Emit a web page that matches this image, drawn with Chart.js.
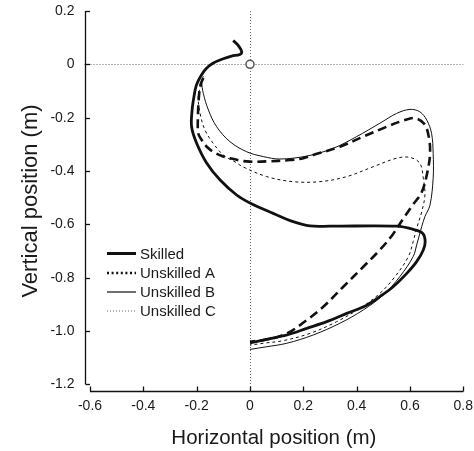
<!DOCTYPE html>
<html><head><meta charset="utf-8">
<script src="https://cdn.jsdelivr.net/npm/chart.js@4/dist/chart.umd.min.js"></script>
<style>html,body{margin:0;padding:0;background:#fff;}#wrap{width:474px;height:451px;position:relative;}</style>
</head><body><div id="wrap"><canvas id="c"></canvas></div>
<script>
// ---- data (metres) ----
const seriesNames = ['Skilled', 'Unskilled A', 'Unskilled B', 'Unskilled C'];
const skilled = [
  [-0.063,0.089],[-0.045,0.072],[-0.031,0.047],[-0.038,0.037],[-0.069,0.031],[-0.100,0.021],
  [-0.139,0.004],[-0.163,-0.015],[-0.182,-0.040],[-0.201,-0.078],[-0.210,-0.121],[-0.217,-0.171],
  [-0.219,-0.234],[-0.200,-0.296],[-0.162,-0.371],[-0.112,-0.434],[-0.050,-0.490],[0.0,-0.520],
  [0.087,-0.559],[0.162,-0.590],[0.225,-0.606],[0.30,-0.607],[0.551,-0.607],[0.612,-0.619],
  [0.648,-0.634],[0.657,-0.665],[0.650,-0.696],[0.625,-0.740],[0.588,-0.784],[0.537,-0.834],
  [0.487,-0.871],[0.438,-0.903],[0.363,-0.934],[0.288,-0.965],[0.213,-0.990],[0.138,-1.015],
  [0.063,-1.031],[0.0,-1.045]
];
const unskilledA = [
  [-0.175,-0.051],[-0.185,-0.075],[-0.191,-0.115],[-0.195,-0.190],[-0.194,-0.259],[-0.181,-0.284],
  [-0.161,-0.310],[-0.138,-0.328],[-0.105,-0.344],[-0.075,-0.352],[-0.031,-0.362],[0.0,-0.365],
  [0.063,-0.364],[0.150,-0.359],[0.200,-0.352],[0.237,-0.340],[0.337,-0.309],[0.425,-0.271],
  [0.513,-0.234],[0.575,-0.211],[0.619,-0.202],[0.655,-0.225],[0.672,-0.280],[0.675,-0.340],
  [0.664,-0.410],[0.644,-0.480],[0.612,-0.525],[0.575,-0.578],[0.537,-0.636],[0.487,-0.696],
  [0.425,-0.759],[0.350,-0.834],[0.275,-0.909],[0.213,-0.959],[0.150,-1.003],[0.094,-1.025],
  [0.037,-1.036],[0.0,-1.040]
];
const unskilledB = [
  [-0.175,-0.045],[-0.181,-0.065],[-0.175,-0.109],[-0.156,-0.171],[-0.125,-0.234],[-0.075,-0.290],
  [-0.012,-0.328],[0.050,-0.346],[0.112,-0.355],[0.213,-0.344],[0.312,-0.315],[0.400,-0.271],
  [0.487,-0.221],[0.550,-0.184],[0.600,-0.169],[0.637,-0.178],[0.663,-0.209],[0.681,-0.259],
  [0.687,-0.334],[0.687,-0.427],[0.675,-0.528],[0.656,-0.571],[0.644,-0.609],[0.625,-0.678],
  [0.612,-0.721],[0.562,-0.796],[0.500,-0.865],[0.425,-0.921],[0.337,-0.971],[0.237,-1.015],
  [0.138,-1.046],[0.063,-1.059],[0.0,-1.069]
];
const unskilledC = [
  [-0.180,-0.075],[-0.194,-0.115],[-0.187,-0.184],[-0.169,-0.246],[-0.138,-0.296],[-0.100,-0.340],
  [-0.056,-0.366],[-0.025,-0.385],[0.063,-0.421],[0.162,-0.440],[0.262,-0.440],[0.363,-0.421],
  [0.462,-0.384],[0.550,-0.352],[0.600,-0.349],[0.637,-0.371],[0.650,-0.427],[0.656,-0.490],
  [0.644,-0.553],[0.625,-0.615],[0.612,-0.665],[0.594,-0.721],[0.544,-0.796],[0.487,-0.859],
  [0.412,-0.915],[0.325,-0.965],[0.225,-1.009],[0.125,-1.036],[0.050,-1.046],[0.0,-1.053]
];
const originPoint = [[0, 0]];
const xTicks = [-0.6, -0.4, -0.2, 0, 0.2, 0.4, 0.6, 0.8];
const xTickLabels = ['-0.6', '-0.4', '-0.2', '0', '0.2', '0.4', '0.6', '0.8'];
const yTicks = [0.2, 0, -0.2, -0.4, -0.6, -0.8, -1.0, -1.2];
const yTickLabels = ['0.2', '0', '-0.2', '-0.4', '-0.6', '-0.8', '-1.0', '-1.2'];
const xTitle = 'Horizontal position (m)';
const yTitle = 'Vertical position (m)';

// ---- chart ----
const FONT = "'Liberation Sans', Arial, Helvetica, sans-serif";
Chart.defaults.font.family = FONT;
const toXY = a => a.map(p => ({x: p[0], y: p[1]}));
const INK = '#111';

const decor = {
  id: 'decor',
  beforeDatasetsDraw(chart) {
    const {ctx, chartArea: a, scales: {x, y}} = chart;
    ctx.save();
    ctx.strokeStyle = '#666';
    ctx.lineWidth = 1;
    ctx.setLineDash([1, 2]);
    const y0 = Math.round(y.getPixelForValue(0)) + 0.5;
    const x0 = Math.round(x.getPixelForValue(0)) + 0.5;
    ctx.beginPath(); ctx.moveTo(a.left, y0); ctx.lineTo(a.right, y0); ctx.stroke();
    ctx.beginPath(); ctx.moveTo(x0, a.top); ctx.lineTo(x0, a.bottom - 3); ctx.stroke();
    ctx.restore();
  },
  afterDraw(chart) {
    const {ctx, chartArea: a, scales: {x, y}} = chart;
    ctx.save();
    ctx.strokeStyle = INK; ctx.lineWidth = 1.3; ctx.setLineDash([]);
    // offset axis lines spanning the tick range
    const xa = Math.round(a.left) + 0.5, ya = Math.round(a.bottom) + 0.5;
    const xFirst = x.getPixelForValue(xTicks[0]), xLast = x.getPixelForValue(xTicks[xTicks.length - 1]);
    const yTop = y.getPixelForValue(yTicks[0]), yBot = y.getPixelForValue(yTicks[yTicks.length - 1]);
    ctx.beginPath(); ctx.moveTo(xa, yTop); ctx.lineTo(xa, yBot); ctx.stroke();
    ctx.beginPath(); ctx.moveTo(xFirst, ya); ctx.lineTo(xLast, ya); ctx.stroke();
    // inward tick marks
    xTicks.forEach(v => {
      const px = Math.round(x.getPixelForValue(v)) + 0.5;
      ctx.beginPath(); ctx.moveTo(px, ya); ctx.lineTo(px, ya - 5); ctx.stroke();
    });
    yTicks.forEach(v => {
      const py = Math.round(y.getPixelForValue(v)) + 0.5;
      ctx.beginPath(); ctx.moveTo(xa, py); ctx.lineTo(xa + 4.5, py); ctx.stroke();
    });
    // legend
    const lx0 = 107, lx1 = 136, tx = 140, rows = [253.5, 273, 292, 311];
    ctx.font = '15px ' + FONT;
    ctx.textBaseline = 'middle';
    ctx.fillStyle = '#1a1a1a';
    chart.data.datasets.filter(d => d.inLegend).forEach((d, i) => {
      const ry = rows[i];
      ctx.strokeStyle = d.legendColor;
      ctx.lineWidth = d.legendWidth;
      ctx.setLineDash(d.legendDash);
      ctx.beginPath(); ctx.moveTo(lx0, ry); ctx.lineTo(lx1, ry); ctx.stroke();
      ctx.fillText(d.label, tx, ry + 1);
    });
    ctx.restore();
  }
};

const lineDs = (label, pts, width, dash, lw, ldash, lcol) => ({
  label, data: toXY(pts), showLine: true, fill: false, pointRadius: 0, pointHoverRadius: 0,
  borderColor: INK, borderWidth: width, borderDash: dash, tension: 0.35,
  borderCapStyle: 'butt', borderJoinStyle: 'round',
  inLegend: true, legendWidth: lw, legendDash: ldash, legendColor: lcol
});
const noPad = s => { s.paddingTop = 0; s.paddingBottom = 0; s.paddingLeft = 0; s.paddingRight = 0; };

new Chart(document.getElementById('c'), {
  type: 'scatter',
  data: {
    datasets: [
      {label: 'origin', data: toXY(originPoint), pointRadius: 4, pointBackgroundColor: '#fff',
       pointBorderColor: '#555', pointBorderWidth: 1.5, showLine: false, inLegend: false},
      lineDs(seriesNames[0], skilled, 2.8, [], 3, [], INK),
      lineDs(seriesNames[1], unskilledA, 2.6, [9, 5], 2.5, [2, 2.6], INK),
      lineDs(seriesNames[2], unskilledB, 1, [], 1.2, [], INK),
      lineDs(seriesNames[3], unskilledC, 1, [3, 3], 1, [1, 2], '#666')
    ]
  },
  options: {
    responsive: true, maintainAspectRatio: false, animation: false, devicePixelRatio: 1,
    layout: {padding: {left: 0, right: 10.7, top: 11, bottom: 0}},
    plugins: {legend: {display: false}, tooltip: {enabled: false}},
    scales: {
      x: {
        type: 'linear', position: 'bottom', min: -0.6206, max: 0.8,
        afterBuildTicks: s => { s.ticks = xTicks.map(v => ({value: v})); },
        afterFit: s => { s.height = 60; noPad(s); },
        grid: {display: false, drawTicks: false},
        border: {display: false},
        ticks: {color: '#1a1a1a', font: {size: 14}, padding: 7, maxRotation: 0, autoSkip: false,
                callback: (v, i) => xTickLabels[i]},
        title: {display: true, text: xTitle, color: '#1a1a1a', font: {size: 20.5},
                padding: {top: 0, bottom: 0.5}}
      },
      y: {
        type: 'linear', position: 'left', min: -1.225, max: 0.2,
        afterBuildTicks: s => { s.ticks = yTicks.map(v => ({value: v})); },
        afterFit: s => { s.width = 84.5; noPad(s); },
        grid: {display: false, drawTicks: false},
        border: {display: false},
        ticks: {color: '#1a1a1a', font: {size: 14}, padding: 10, autoSkip: false,
                callback: (v, i) => yTickLabels[i]},
        title: {display: true, text: yTitle, color: '#1a1a1a', font: {size: 22},
                padding: {top: 17.5, bottom: 0}}
      }
    }
  },
  plugins: [decor]
});
</script></body></html>
